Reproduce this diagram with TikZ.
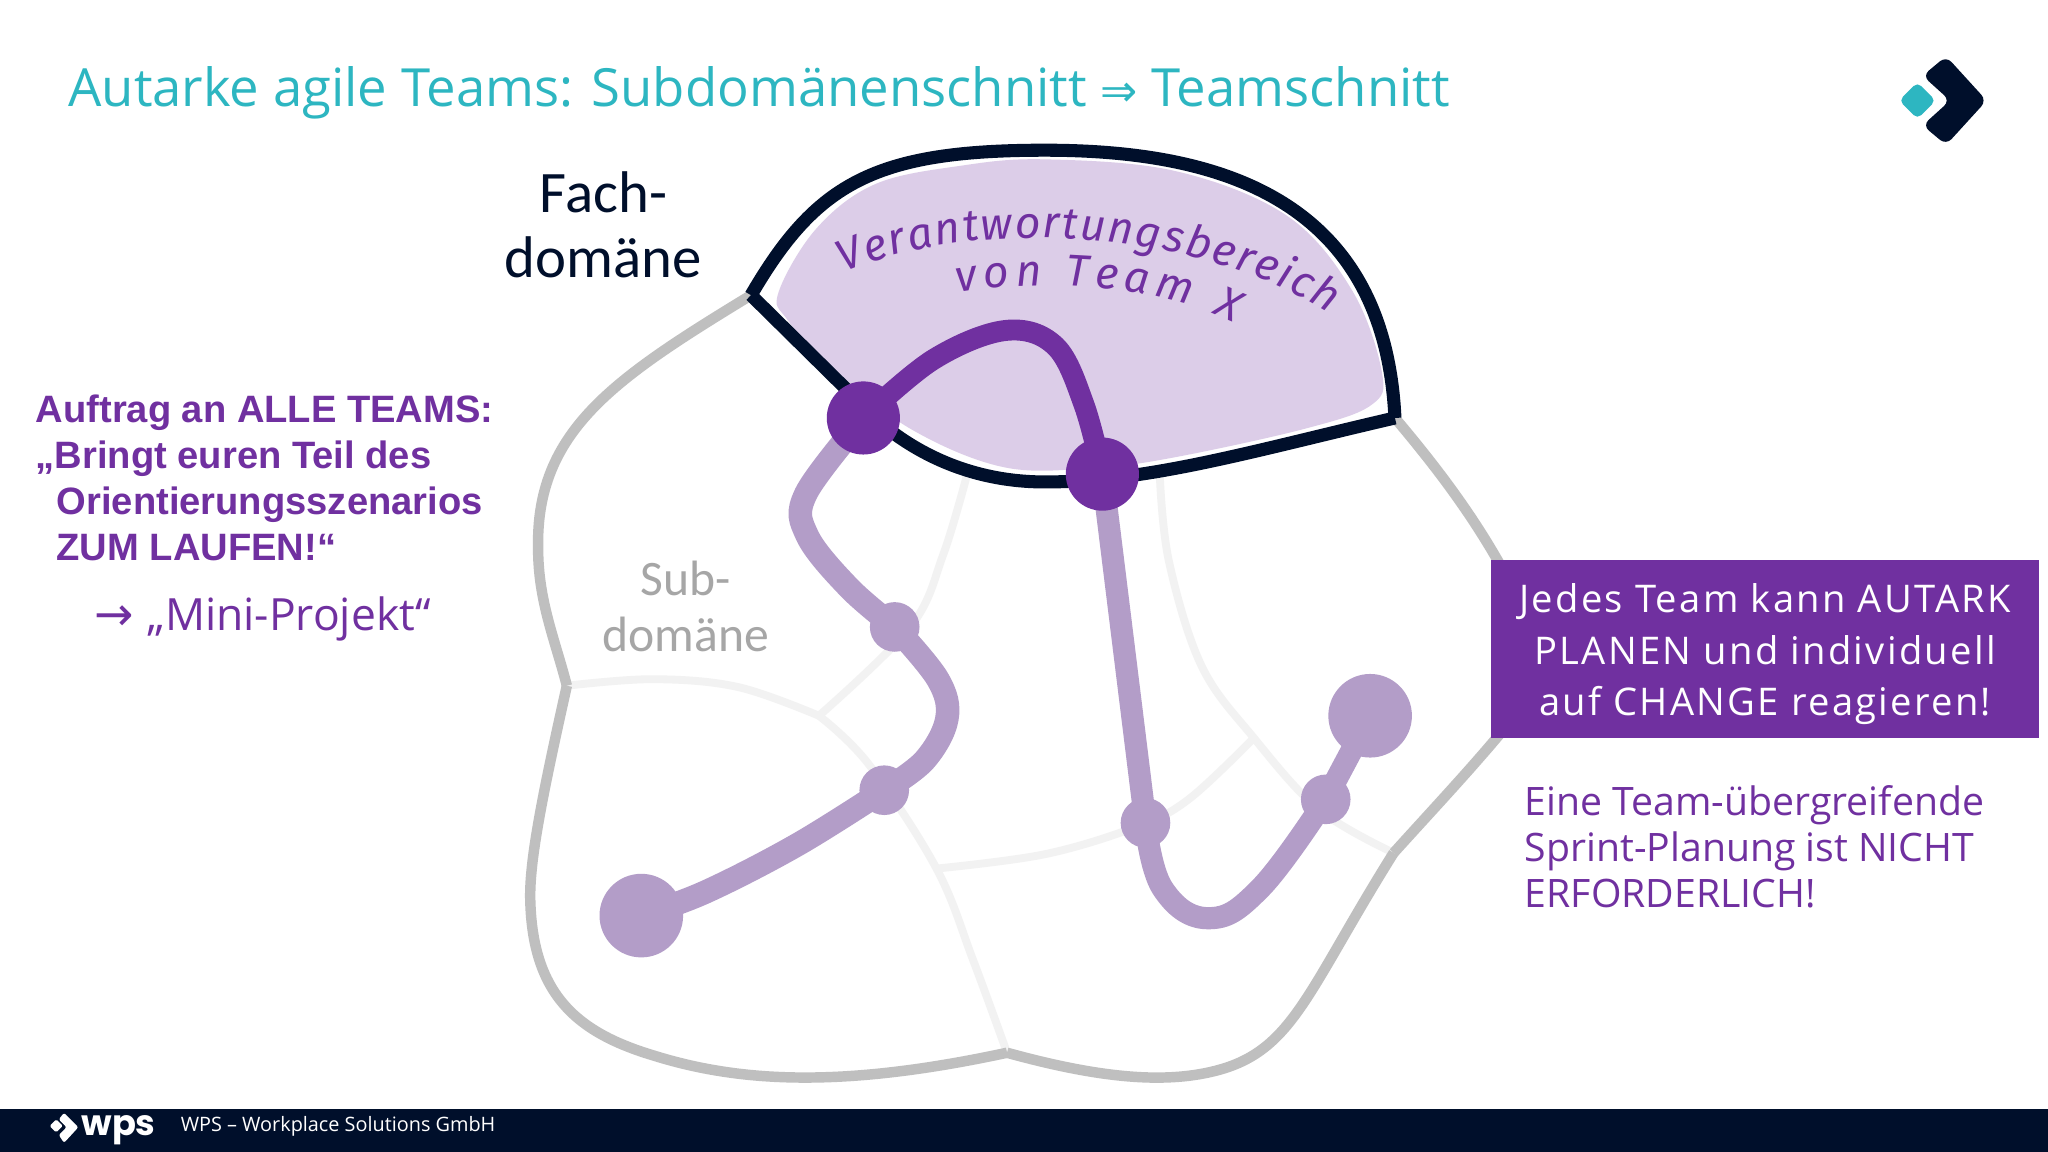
\documentclass[tikz,border=0pt]{standalone}
\usepackage{fontspec}
\usetikzlibrary{backgrounds,decorations.text}
\setmainfont{Open Sans}
\newfontfamily\domainfont{Carlito}
\newfontfamily\leftfont{Liberation Sans}
\newfontfamily\boxfont[LetterSpace=6]{Open Sans}
\newfontfamily\handfont{Fira Sans Italic}
\newfontfamily\wpsfont{Poppins}
\newfontfamily\arrowfont{DejaVu Sans}
\definecolor{wpsnavy}{HTML}{000F2B}
\definecolor{wpsteal}{HTML}{2DB6C1}
\definecolor{teampurple}{HTML}{7030A0}
\definecolor{routelilac}{HTML}{B39DC8}
\definecolor{arealilac}{HTML}{DCCDE8}
\definecolor{outergrey}{HTML}{BFBFBF}
\definecolor{innergrey}{HTML}{F2F2F2}
\definecolor{subgrey}{HTML}{A6A6A6}
\tikzset{
  outerline/.style={draw=outergrey,line width=4pt,line join=round},
  innerline/.style={draw=innergrey,line width=3pt},
  teamline/.style={draw=wpsnavy,line width=5pt,line join=round},
  darkroute/.style={draw=teampurple,line width=8pt},
  lightroute/.style={draw=routelilac,line width=9pt},
  bigstop/.style={circle,fill=routelilac,minimum size=32pt,inner sep=0pt},
  smallstop/.style={circle,fill=routelilac,minimum size=19pt,inner sep=0pt},
  darkstop/.style={circle,fill=teampurple,minimum size=28pt,inner sep=0pt},
  subtext/.style={font=\domainfont\fontsize{19}{21.5}\selectfont,align=center}
}
\begin{document}
\begin{tikzpicture}[x=.5pt,y=-.5pt]

        \useasboundingbox (0,0) rectangle (1568,882);

        \coordinate (fachnw) at (575,226);
        \coordinate (fachne) at (1068,320);
        \coordinate (fachw)  at (434,525);
        \coordinate (fachs)  at (771,806);
        \coordinate (fachse) at (1067,653);
        \coordinate (subc)   at (627,548);
        \coordinate (subd)   at (717,665);
        \coordinate (sube)   at (960,565);

        \begin{scope}
          \node[darkstop]  (stopa) at (661,320) {};
          \node[darkstop]  (stopb) at (844,363) {};
          \node[smallstop] (stopc) at (685,480) {};
          \node[smallstop] (stopd) at (677,605) {};
          \node[bigstop]   (stope) at (491,701) {};
          \node[smallstop] (stopf) at (877,630) {};
          \node[smallstop] (stopg) at (1015,612) {};
          \node[bigstop]   (stoph) at (1049,548) {};
        \end{scope}

        \begin{scope}[on background layer]
          \fill[white] (0,0) rectangle (1568,882);
          \fill[arealilac] plot[smooth cycle,tension=.6] coordinates {(596,224) (625,175) (670,141) (735,127) (800,122) (900,131) (985,165) (1035,222) (1058,285) (1050,310) (1000,328) (900,350) (840,358) (770,358) (700,330) (640,285) (603,245)};

          \draw[innerline] plot[smooth,tension=.6] coordinates {(fachw) (500,520) (565,526) (subc)};
          \draw[innerline] plot[smooth,tension=.6] coordinates {(subc) (665,585) (subd) (745,735) (fachs)};
          \draw[innerline] plot[smooth,tension=.6] coordinates {(740,365) (722,425) (697,480) (subc)};
          \draw[innerline] plot[smooth,tension=.6] coordinates {(subd) (800,654) (870,633) (910,612) (sube)};
          \draw[innerline] plot[smooth,tension=.6] coordinates {(888,365) (895,430) (920,510) (sube) (1010,620) (fachse)};

          \draw[outerline] (fachnw) .. controls (470,290) and (410,330) .. (412,420) .. controls (412,460) and (425,490) .. (fachw);
          \draw[outerline] (fachw) .. controls (415,610) and (405,660) .. (406,690) .. controls (408,760) and (440,790) .. (500,808) .. controls (570,830) and (650,832) .. (fachs);
          \draw[outerline] (fachs) .. controls (840,825) and (890,830) .. (930,820) .. controls (990,805) and (1000,760) .. (fachse);
          \draw[outerline] (fachse) .. controls (1095,622) and (1125,590) .. (1150,560);
          \draw[outerline] (fachne) .. controls (1095,352) and (1125,390) .. (1150,435);

          \draw[teamline] (fachnw) .. controls (625,140) and (670,115) .. (800,115) .. controls (930,115) and (1060,150) .. (fachne);
          \draw[teamline] (fachne) .. controls (960,345) and (880,369) .. (800,369) .. controls (730,369) and (680,335) .. (650,300) -- (fachnw);

          \draw[darkroute] plot[smooth,tension=.6] coordinates {(stopa.center) (715,275) (770,253) (808,265) (830,310) (stopb.center)};
          \draw[lightroute] plot[smooth,tension=.6] coordinates {(stopa.center) (617,378) (618,410) (650,450) (stopc.center)};
          \draw[lightroute] plot[smooth,tension=.6] coordinates {(stopc.center) (718,520) (725,550) (708,582) (stopd.center)};
          \draw[lightroute] plot[smooth,tension=.6] coordinates {(stopd.center) (610,647) (540,683) (stope.center)};
          \draw[lightroute,line width=8.5pt] (stopb.center) -- (stopf.center);
          \draw[lightroute,line width=8.5pt] plot[smooth,tension=.7] coordinates {(stopf.center) (890,680) (925,703) (965,680) (stopg.center)};
          \draw[lightroute,line width=8.5pt] (stopg.center) -- (stoph.center);
        \end{scope}

        \node[anchor=west,inner sep=0pt,text=wpsteal,font=\fontsize{20.15}{24}\selectfont] (title) at (52,71)
          {Autarke agile Teams: Subdomänenschnitt {\arrowfont\fontsize{17}{24}\selectfont ⇒} Teamschnitt};

        \node[subtext,text=wpsnavy,font=\domainfont\fontsize{22.5}{25}\selectfont] (fach) at (462,172) {Fach-\\domäne};
        \node[subtext,text=subgrey] (sub) at (525,464) {Sub-\\domäne};

        \path[decorate,decoration={text along path,text align={fit to path},text color=teampurple,
          text={|\handfont\fontsize{17}{20}\selectfont|Verantwortungsbereich}}]
          (646,209) .. controls (740,167) and (910,172) .. (1018,240);
        \path[decorate,decoration={text along path,text align={fit to path},text color=teampurple,
          text={|\handfont\fontsize{17}{20}\selectfont|von Team X}}]
          (733,224) .. controls (790,214) and (880,216) .. (945,247);

        \node[anchor=north west,inner sep=0pt,align=left,text=teampurple,font=\leftfont\bfseries\fontsize{14.6}{17.6}\selectfont] (auftrag) at (27,302)
          {Auftrag an ALLE TEAMS:\\„Bringt euren Teil des\\\hspace*{8pt}Orientierungsszenarios\\\hspace*{8pt}ZUM LAUFEN!“};
        \node[anchor=west,inner sep=0pt,text=teampurple,font=\fontsize{17}{19}\selectfont] (mini) at (72,474)
          {{\arrowfont\fontsize{18}{19}\selectfont →}\hspace{5pt}„Mini-Projekt“};

        \node[anchor=north west,minimum width=210pt,minimum height=68.5pt,inner sep=0pt,fill=teampurple,text=white,align=center,font=\boxfont\fontsize{14.6}{19.6}\selectfont] (autark) at (1141,428)
          {\rule{0pt}{15pt}Jedes Team kann AUTARK\\PLANEN und individuell\\auf CHANGE reagieren!};
        \node[anchor=north west,inner sep=0pt,align=left,text=teampurple,font=\fontsize{15}{17.6}\selectfont] (sprint) at (1167,601)
          {Eine Team-übergreifende\\Sprint-Planung ist NICHT\\ERFORDERLICH!};

        \fill[wpsteal,rounded corners=2pt] (1468,63) -- (1482,77) -- (1468,91) -- (1454,77) -- cycle;
        \fill[wpsnavy,rounded corners=3pt] (1490,43) -- (1521,77) -- (1490,111) -- (1472,96) -- (1493,77) -- (1472,58) -- cycle;

        \fill[wpsnavy] (0,849) rectangle (1568,882);
        \fill[white,rounded corners=.5pt] (43,857) -- (48,862) -- (43,867) -- (38,862) -- cycle;
        \fill[white,rounded corners=.8pt] (49,852) -- (60,863) -- (49,875) -- (45,869) -- (51,863) -- (45,857) -- cycle;
        \node[anchor=west,inner sep=0pt,text=white,font=\wpsfont\bfseries\fontsize{13.5}{14}\selectfont] (wps) at (62,865) {wps};
        \node[anchor=west,inner sep=0pt,text=white,font=\fontsize{7.6}{9}\selectfont] (firma) at (138,862) {WPS – Workplace Solutions GmbH};

      \end{tikzpicture}
\end{document}
